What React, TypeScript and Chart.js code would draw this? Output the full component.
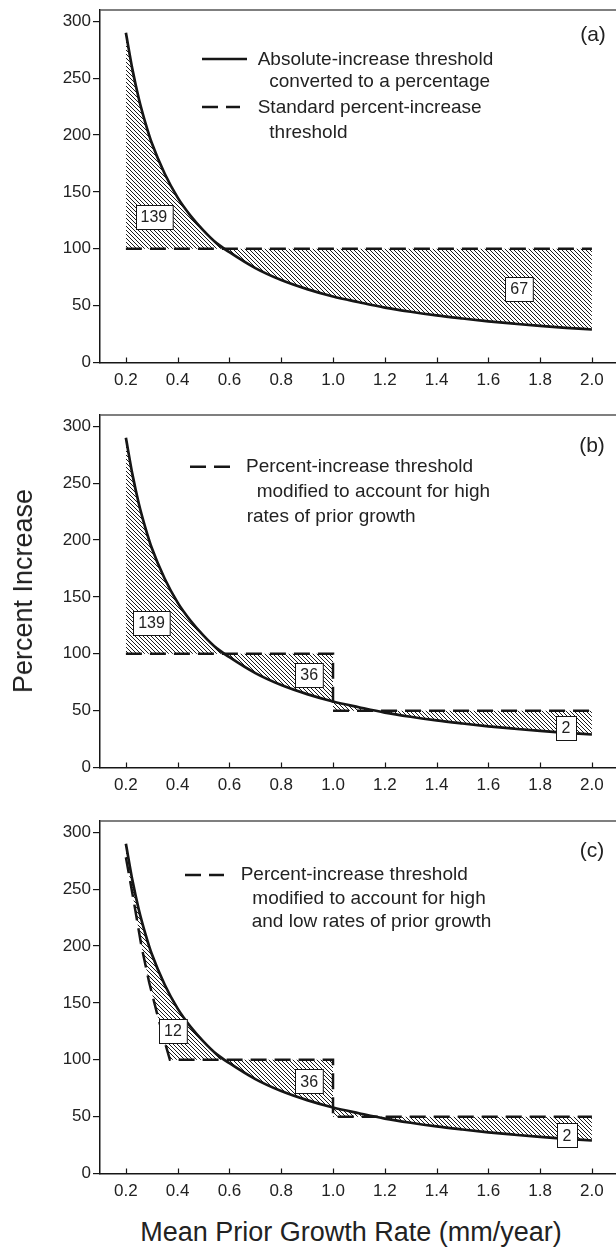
import React, { useEffect, useRef } from 'react';
import { Chart, registerables } from 'chart.js';

Chart.register(...registerables);

const FONT = "'Liberation Sans', Arial, Helvetica, sans-serif";
Chart.defaults.font.family = FONT;

// ---------- data ----------
const growthRates = [0.2, 0.225, 0.25, 0.275, 0.3, 0.35, 0.4, 0.45, 0.5, 0.55, 0.6, 0.7, 0.8, 0.9, 1.0, 1.1, 1.2, 1.3, 1.4, 1.5, 1.6, 1.7, 1.8, 1.9, 2.0];
const absoluteThresholdPct = [290, 258, 232, 211, 193, 166, 145, 129, 116, 105, 97, 83, 72.5, 64.5, 58, 53, 48.3, 44.6, 41.4, 38.7, 36.2, 34.1, 32.2, 30.5, 29];

const standardX = [0.2, 2.0];
const standardY = [100, 100];
const highX = [0.2, 1.0, 1.0, 2.0];
const highY = [100, 100, 50, 50];
const highLowX = [0.2, 0.23, 0.26, 0.29, 0.32, 0.345, 0.37, 1.0, 1.0, 2.0];
const highLowY = [278, 240, 200, 168, 141, 120, 100, 100, 50, 50];

const xTickValues = [0.2, 0.4, 0.6, 0.8, 1.0, 1.2, 1.4, 1.6, 1.8, 2.0];
const yTickValues = [0, 50, 100, 150, 200, 250, 300];

const areaLabelsA = [
  { x: 0.308, y: 128, text: '139' },
  { x: 1.719, y: 64.7, text: '67' },
];
const areaLabelsB = [
  { x: 0.299, y: 127.5, text: '139' },
  { x: 0.908, y: 81.5, text: '36' },
  { x: 1.9, y: 35, text: '2' },
];
const areaLabelsC = [
  { x: 0.382, y: 125.3, text: '12' },
  { x: 0.908, y: 81, text: '36' },
  { x: 1.904, y: 33.7, text: '2' },
];

// ---------- layout ----------
const W = 616;
const PANEL_H = 405;
const X_MIN = 0.1;
const X_MAX = 2.093;
const Y_MIN = 0;
const Y_MAX = 310;
const INK = '#161616';

type LegendLine = { t: string; x: number; y: number };
type LegendEntry = { dashed: boolean; x0: number; x1: number; y: number; lines: LegendLine[] };

const panels = [
  {
    top: 0,
    tag: '(a)',
    tagPos: { x: 593, y: 35 },
    thrX: standardX,
    thrY: standardY,
    labels: areaLabelsA,
    legend: [
      {
        dashed: false, x0: 202, x1: 247, y: 59,
        lines: [
          { t: 'Absolute-increase threshold', x: 257.7, y: 60 },
          { t: 'converted to a percentage', x: 269.3, y: 82 },
        ],
      },
      {
        dashed: true, x0: 202, x1: 240, y: 107,
        lines: [
          { t: 'Standard percent-increase', x: 257.7, y: 107.5 },
          { t: 'threshold', x: 269.3, y: 132.5 },
        ],
      },
    ] as LegendEntry[],
  },
  {
    top: 405,
    tag: '(b)',
    tagPos: { x: 592, y: 41.5 },
    thrX: highX,
    thrY: highY,
    labels: areaLabelsB,
    legend: [
      {
        dashed: true, x0: 190, x1: 230, y: 61.7,
        lines: [
          { t: 'Percent-increase threshold', x: 246, y: 61.7 },
          { t: 'modified to account for high', x: 256.7, y: 86.7 },
          { t: 'rates of prior growth', x: 246.7, y: 111.7 },
        ],
      },
    ] as LegendEntry[],
  },
  {
    top: 811,
    tag: '(c)',
    tagPos: { x: 592, y: 40.5 },
    thrX: highLowX,
    thrY: highLowY,
    labels: areaLabelsC,
    legend: [
      {
        dashed: true, x0: 185, x1: 224, y: 64,
        lines: [
          { t: 'Percent-increase threshold', x: 240.7, y: 64 },
          { t: 'modified to account for high', x: 252.3, y: 88 },
          { t: 'and low rates of prior growth', x: 251.7, y: 111 },
        ],
      },
    ] as LegendEntry[],
  },
];

function makeHatch(): CanvasPattern | string {
  const c = document.createElement('canvas');
  c.width = 4;
  c.height = 4;
  const g = c.getContext('2d');
  if (!g) return '#999';
  g.strokeStyle = '#1a1a1a';
  g.lineWidth = 1;
  g.beginPath();
  g.moveTo(-1, -1);
  g.lineTo(5, 5);
  g.moveTo(-1, 3);
  g.lineTo(1, 5);
  g.moveTo(3, -1);
  g.lineTo(5, 1);
  g.stroke();
  return g.createPattern(c, 'repeat') || '#999';
}

function Panel({ cfg }: { cfg: (typeof panels)[number] }) {
  const ref = useRef<HTMLCanvasElement>(null);

  useEffect(() => {
    if (!ref.current) return;
    const hatch = makeHatch();

    const decor = {
      id: 'panelDecor',
      afterDraw(chart: any) {
        const ctx: CanvasRenderingContext2D = chart.ctx;
        const { left, right, top, bottom } = chart.chartArea;
        const xs = chart.scales.x;
        const ys = chart.scales.y;
        ctx.save();
        // top frame line
        ctx.strokeStyle = '#555';
        ctx.lineWidth = 1.5;
        ctx.beginPath();
        ctx.moveTo(left, top);
        ctx.lineTo(right, top);
        ctx.stroke();
        // inward x ticks
        ctx.strokeStyle = INK;
        ctx.lineWidth = 1.2;
        xTickValues.forEach((v) => {
          const px = Math.round(xs.getPixelForValue(v)) + 0.5;
          ctx.beginPath();
          ctx.moveTo(px, bottom);
          ctx.lineTo(px, bottom - 5);
          ctx.stroke();
        });
        // area labels
        ctx.font = `16px ${FONT}`;
        ctx.textAlign = 'center';
        ctx.textBaseline = 'middle';
        cfg.labels.forEach((l) => {
          const cx = xs.getPixelForValue(l.x);
          const cy = ys.getPixelForValue(l.y);
          const tw = ctx.measureText(l.text).width;
          const bw = Math.max(tw + 10, 20);
          const bh = 24;
          const bx = Math.round(cx - bw / 2) + 0.5;
          const by = Math.round(cy - bh / 2) + 0.5;
          ctx.fillStyle = '#fff';
          ctx.fillRect(bx, by, bw, bh);
          ctx.strokeStyle = INK;
          ctx.lineWidth = 1;
          ctx.strokeRect(bx, by, bw, bh);
          ctx.fillStyle = '#222';
          ctx.fillText(l.text, cx, cy + 1);
        });
        // legend
        cfg.legend.forEach((e) => {
          ctx.strokeStyle = INK;
          ctx.lineWidth = 2.5;
          ctx.setLineDash(e.dashed ? [16, 8] : []);
          ctx.beginPath();
          ctx.moveTo(e.x0, e.y);
          ctx.lineTo(e.x1, e.y);
          ctx.stroke();
          ctx.setLineDash([]);
          ctx.font = `19px ${FONT}`;
          ctx.textAlign = 'left';
          ctx.textBaseline = 'middle';
          ctx.fillStyle = '#222';
          e.lines.forEach((ln) => ctx.fillText(ln.t, ln.x, ln.y));
        });
        // panel tag
        ctx.font = `21px ${FONT}`;
        ctx.textAlign = 'center';
        ctx.textBaseline = 'middle';
        ctx.fillStyle = '#222';
        ctx.fillText(cfg.tag, cfg.tagPos.x, cfg.tagPos.y);
        ctx.restore();
      },
    };

    const chart = new Chart(ref.current, {
      type: 'line',
      data: {
        datasets: [
          {
            data: growthRates.map((x, i) => ({ x, y: absoluteThresholdPct[i] })),
            borderColor: INK,
            borderWidth: 2.7,
            pointRadius: 0,
            cubicInterpolationMode: 'monotone',
            fill: false,
          },
          {
            data: cfg.thrX.map((x, i) => ({ x, y: cfg.thrY[i] })),
            borderColor: INK,
            borderWidth: 2.5,
            borderDash: [16, 8],
            pointRadius: 0,
            tension: 0,
            fill: '-1',
            backgroundColor: hatch as any,
          },
        ],
      },
      options: {
        animation: false,
        responsive: false,
        events: [],
        layout: { padding: { top: 10, left: 0, right: 0, bottom: 0 } },
        plugins: {
          legend: { display: false },
          tooltip: { enabled: false },
          filler: { drawTime: 'beforeDatasetsDraw' },
        },
        scales: {
          x: {
            type: 'linear',
            min: X_MIN,
            max: X_MAX,
            afterBuildTicks: (s: any) => {
              s.ticks = xTickValues.map((v) => ({ value: v }));
            },
            afterFit: (s: any) => {
              s.height = 42.5;
              s.paddingLeft = 0;
              s.paddingRight = 0;
            },
            ticks: {
              callback: (v: any) => Number(v).toFixed(1),
              font: { size: 17, family: FONT },
              color: '#222',
              padding: 8,
              maxRotation: 0,
              autoSkip: false,
            },
            grid: { display: false, drawTicks: false },
            border: { display: true, color: INK, width: 1.5 },
          },
          y: {
            type: 'linear',
            min: Y_MIN,
            max: Y_MAX,
            afterBuildTicks: (s: any) => {
              s.ticks = yTickValues.map((v) => ({ value: v }));
            },
            afterFit: (s: any) => {
              s.width = 100;
              s.paddingTop = 0;
              s.paddingBottom = 0;
            },
            ticks: {
              font: { size: 17, family: FONT },
              color: '#222',
              padding: 2,
            },
            grid: { drawOnChartArea: false, tickLength: 7, color: INK, lineWidth: 1.2 },
            border: { display: true, color: INK, width: 1.5 },
          },
        },
      } as any,
      plugins: [decor],
    });
    return () => chart.destroy();
  }, []);

  return (
    <canvas
      ref={ref}
      width={W}
      height={PANEL_H}
      style={{ position: 'absolute', left: 0, top: cfg.top, width: W, height: PANEL_H }}
    />
  );
}

export default function App() {
  return (
    <div style={{ position: 'absolute', left: 0, top: 0, width: W, height: 1254, background: '#fff', overflow: 'hidden' }}>
      {panels.map((p) => (
        <Panel key={p.tag} cfg={p} />
      ))}
      <div
        style={{
          position: 'absolute',
          left: 23,
          top: 591,
          transform: 'translate(-50%, -50%) rotate(-90deg)',
          whiteSpace: 'nowrap',
          font: `27px ${FONT}`,
          color: '#222',
          lineHeight: '30px',
        }}
      >
        Percent Increase
      </div>
      <div
        style={{
          position: 'absolute',
          left: 351,
          top: 1232,
          transform: 'translate(-50%, -50%)',
          whiteSpace: 'nowrap',
          font: `27px ${FONT}`,
          color: '#222',
          lineHeight: '30px',
        }}
      >
        Mean Prior Growth Rate (mm/year)
      </div>
    </div>
  );
}
